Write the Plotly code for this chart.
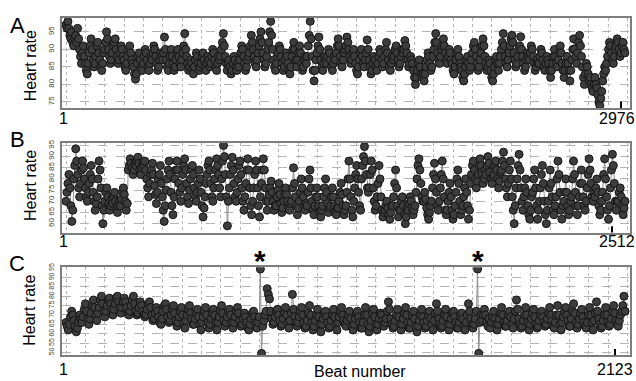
import numpy as np
import plotly.graph_objects as go

W, H = 636, 381

# ---------------- data ----------------
panel_labels = ["A", "B", "C"]
beats_total = [2976, 2512, 2123]          # labelled last beat of each record
last_beat_drawn = [2997, 2572, 2162]      # where the plotted trace ends (estimated)

yticks_a = [75, 80, 85, 90, 95]
yticks_b = [60, 65, 70, 75, 80, 85, 90, 95]
yticks_c = [50, 55, 60, 65, 70, 75, 80, 85, 90, 95]

hr_a = [
    97, 96, 98, 96, 94, 93, 95, 92, 91, 93,   94, 92, 96, 93, 90, 88, 86, 89, 91, 88,
    86, 84, 83, 86, 89, 91, 93, 90, 87, 85,   86, 88, 91, 92, 89, 87, 85, 84, 86, 89,
    90, 92, 95, 93, 90, 88, 86, 87, 89, 91,   92, 93, 90, 88, 86, 87, 89, 91, 90, 88,
    87, 85, 84, 86, 88, 90, 91, 89, 87, 86,   85, 83, 81.5, 83, 86, 88, 89, 87, 85, 84,
    86, 88, 90, 89, 87, 85, 84, 86, 88, 87,   89, 91, 90, 88, 86, 84, 85, 87, 89, 88,
    87, 89, 93.5, 90, 87, 85, 84, 86, 88, 90, 88, 86, 84, 85, 87, 89, 90, 88, 86, 85,
    87, 89, 91, 94.5, 90, 88, 86, 84, 85, 87, 86, 84, 83, 85, 87, 89, 88, 86, 84, 85,
    86, 88, 89, 87, 85, 84, 86, 88, 87, 85,   86, 88, 90, 89, 87, 85, 84, 86, 88, 87,
    88, 90, 92, 94.5, 91, 88, 86, 84, 86, 87, 85, 83, 84, 86, 88, 87, 85, 84, 86, 85,
    87, 89, 91, 90, 88, 86, 84, 85, 87, 88,   89, 91, 94, 92, 90, 88, 86, 85, 87, 89,
    91, 93, 95, 92, 89, 87, 85, 86, 88, 90,   92, 95, 98, 94, 90, 87, 85, 84, 86, 88,
    89, 91, 90, 88, 86, 84, 85, 87, 89, 88,   86, 84, 83, 85, 88, 90, 92, 90, 87, 85,
    87, 89, 91, 89, 86, 84, 85, 87, 88, 86,   88, 91, 94, 98, 93, 88, 84, 81, 84, 87,
    89, 91, 93.5, 90, 87, 85, 84, 86, 88, 87, 86, 88, 90, 89, 87, 85, 84, 86, 88, 87,
    89, 91, 93, 91, 88, 86, 85, 87, 89, 90,   91, 93.5, 92, 90, 88, 86, 87, 89, 90, 88,
    86, 84, 83, 85, 87, 89, 90, 88, 86, 85,   87, 89, 92.7, 90, 87, 85, 83, 84, 86, 88,
    87, 85, 84, 86, 88, 90, 89, 87, 85, 86,   88, 90, 92, 89, 87, 85, 84, 86, 88, 87,
    88, 90, 91, 89, 87, 85, 86, 88, 90, 89,   90, 92.5, 91, 89, 87, 85, 86, 88, 87, 86,
    84, 82, 80, 82, 84, 86, 87, 85, 83, 82,   83, 81, 83, 85, 87, 89, 88, 86, 84, 85,
    88, 90, 92, 94.5, 92, 89, 87, 86, 88, 90, 91, 93, 91, 89, 87, 86, 88, 90, 89, 87,
    86, 84, 83, 85, 87, 89, 90, 88, 86, 85,   84, 82, 81, 83, 85, 87, 88, 86, 84, 85,
    87, 89, 91, 92, 90, 88, 86, 84, 85, 87,   89, 91, 93, 91, 88, 86, 84, 85, 87, 86,
    84, 82, 81, 83, 85, 87, 88, 86, 84, 86,   88, 90, 92, 94.5, 91, 88, 86, 85, 87, 89,
    91, 93, 94, 92, 89, 87, 85, 86, 88, 90,   91, 93.6, 90, 88, 86, 84, 85, 87, 89, 88,
    87, 89, 91, 90, 88, 86, 84, 85, 87, 86,   86, 88, 90, 89, 87, 85, 84, 86, 88, 87,
    86, 84, 82, 84, 86, 88, 90, 88, 86, 85,   87, 89, 91, 89, 86, 84, 82, 84, 86, 88,
    86, 84, 81, 84, 87, 90, 93, 90, 88, 86,   89, 92, 94, 91, 88, 85, 82, 80, 83, 86,
    85, 83, 81, 82, 80, 79, 78, 80, 82, 80,   79, 77, 75, 74, 76, 78, 81, 83, 85, 84,
    86, 88, 90, 92, 91, 89, 87, 86, 88, 90,   91, 93, 92, 90, 88, 89, 91, 92, 90, 89,
]

hr_b = [
    70, 74, 78, 82, 76, 68, 61, 66,   80, 86, 93.5, 88, 82, 76, 72, 78,  84, 88, 85, 80, 76, 72, 70, 74,
    78, 82, 86, 80, 74, 70, 66, 69,   72, 80, 88, 84, 76, 68, 60, 66,    70, 74, 76, 72, 69, 66, 68, 71,
    69, 72, 74, 70, 67, 65, 68, 70,   68, 71, 74, 76, 73, 70, 66, 69,    84, 86, 89, 87, 85, 82, 84, 87,
    86, 88, 89.7, 87, 84, 82, 85, 87, 86, 88, 84, 80, 76, 72, 78, 82,    84, 87, 82, 77, 73, 69, 74, 80,
    82, 86, 78, 72, 66, 61, 68, 75,   80, 84, 88, 82, 74, 68, 64, 72,    80, 84, 88, 84, 78, 74, 70, 76,
    82, 86, 89, 84, 78, 72, 69, 75,   80, 84, 86, 82, 76, 72, 70, 74,    78, 84, 80, 74, 68, 63, 67, 72,
    78, 82, 86, 88, 84, 78, 72, 70,   76, 80, 84, 89, 86, 82, 76, 72,    80, 88, 95, 90, 82, 72, 59, 70,
    76, 82, 86, 89.7, 84, 78, 72, 70, 74, 80, 86, 88, 82, 76, 70, 66,    72, 78, 84, 89, 84, 76, 68, 64,
    70, 76, 82, 88, 84, 76, 68, 63,   72, 78, 84, 89, 84, 76, 70, 66,    70, 73, 76, 79, 74, 70, 66, 68,
    68, 72, 75, 78, 73, 69, 65, 67,   70, 73, 76, 73, 70, 67, 66, 69,    70, 76, 85, 78, 72, 68, 64, 67,
    70, 74, 80, 76, 72, 68, 66, 69,   68, 74, 80, 84, 76, 70, 66, 64,    68, 72, 76, 72, 68, 65, 63, 66,
    68, 72, 76, 80, 74, 69, 65, 67,   68, 72, 76, 72, 68, 65, 64, 67,    67, 70, 74, 78, 73, 68, 64, 66,
    68, 74, 80, 88, 80, 72, 66, 63,   70, 76, 82, 86, 80, 74, 68, 66,    80, 86, 90, 94.5, 88, 82, 76, 74,
    76, 82, 88, 84, 76, 70, 66, 68,   72, 78, 86, 80, 72, 66, 63, 65,    66, 68, 70, 67, 64, 62, 65, 68,
    68, 72, 78, 84, 76, 68, 63, 66,   66, 70, 72, 68, 64, 60, 63, 67,    66, 69, 72, 70, 67, 64, 66, 68,
    74, 80, 86, 89, 84, 78, 72, 70,   70, 74, 71, 67, 64, 62, 65, 68,    70, 76, 82, 87, 80, 74, 68, 66,
    70, 76, 82, 88, 80, 72, 66, 64,   66, 70, 74, 78, 72, 66, 62, 64,    68, 74, 80, 84, 78, 70, 64, 66,
    68, 72, 76, 80, 74, 68, 62, 66,   78, 82, 86, 88, 84, 80, 76, 79,    82, 86, 89, 86, 82, 78, 80, 84,
    82, 86, 90, 87, 83, 80, 78, 81,   82, 86, 88, 84, 80, 76, 79, 83,    84, 88, 92, 86, 80, 76, 72, 78,
    84, 88, 80, 72, 66, 60, 68, 76,   80, 86, 91, 84, 76, 70, 66, 72,    76, 80, 74, 68, 64, 62, 66, 72,
    74, 80, 84, 76, 68, 62, 66, 70,   76, 82, 86, 78, 70, 64, 60, 66,    70, 76, 84, 78, 72, 66, 64, 68,
    72, 80, 88, 82, 74, 66, 62, 68,   70, 74, 80, 74, 68, 64, 66, 70,    72, 80, 88, 82, 74, 68, 64, 68,
    72, 78, 84, 78, 72, 68, 66, 70,   76, 82, 89, 84, 78, 72, 70, 74,    72, 76, 80, 74, 68, 64, 66, 70,
    74, 82, 89, 80, 72, 66, 62, 68,   76, 84, 91, 86, 78, 70, 66, 70,    70, 74, 76, 72, 68, 64, 67, 70,
]

hr_c = [
    66, 64, 62, 65, 69, 72, 70,   67, 64, 61, 63, 66, 70, 68,   66, 69, 73, 76, 72, 68, 65,
    68, 71, 75, 78, 74, 70, 67,   71, 74, 78, 80, 76, 72, 69,   72, 75, 78, 79, 76, 73, 70,
    73, 76, 79, 80, 77, 74, 71,   74, 77, 79, 77, 74, 71, 70,   72, 75, 78, 80, 76, 72, 70,
    71, 74, 77, 75, 72, 70, 69,   70, 73, 76, 77, 74, 70, 67,   68, 71, 74, 72, 69, 66, 65,
    68, 72, 75, 76, 73, 69, 66,   67, 70, 73, 75, 71, 67, 64,   66, 69, 72, 74, 70, 66, 63,
    67, 70, 73, 75, 71, 68, 65,   65, 68, 71, 73, 69, 65, 62,   66, 69, 72, 74, 70, 66, 63,
    65, 68, 71, 73, 70, 66, 62,   66, 69, 72, 75, 71, 67, 64,   66, 69, 72, 73, 70, 66, 63,
    66, 69, 72, 74, 71, 67, 64,   65, 68, 71, 69, 66, 63, 62,   65, 68, 71, 72, 69, 66, 63,
    66, 69, 94.5, 49.5, 64, 67, 70,  72, 84, 81, 78.6, 72, 68, 65,  66, 69, 72, 73, 70, 67, 64,
    65, 68, 71, 74, 70, 66, 63,   67, 71, 81, 73, 69, 66, 64,   66, 69, 72, 74, 70, 66, 63,
    64, 67, 71, 75, 70, 66, 62,   64, 67, 70, 73, 69, 65, 61,   65, 68, 71, 72, 69, 66, 63,
    64, 67, 70, 73, 69, 65, 62,   66, 69, 72, 74, 70, 67, 65,   64, 67, 70, 72, 68, 64, 62,
    65, 68, 71, 72, 69, 66, 63,   63, 66, 70, 74, 70, 65, 61,   64, 67, 71, 73, 69, 65, 62,
    65, 68, 71, 70, 67, 64, 66,   68, 72, 77, 73, 68, 65, 63,   64, 67, 70, 73, 69, 65, 62,
    65, 68, 71, 74, 70, 66, 63,   63, 66, 70, 72, 68, 64, 61,   64, 67, 70, 73, 69, 66, 63,
    64, 67, 70, 72, 68, 65, 62,   67, 71, 76, 72, 68, 65, 63,   64, 67, 70, 73, 69, 65, 62,
    65, 68, 71, 72, 69, 66, 63,   63, 66, 69, 71, 68, 64, 62,   66, 70, 76, 72, 68, 65, 63,
    65, 68, 72, 94.5, 49.5, 66, 70,  67, 70, 73, 70, 66, 64, 68,  63, 66, 69, 72, 68, 65, 62,
    65, 68, 71, 74, 70, 66, 64,   64, 67, 70, 72, 69, 65, 63,   68, 72, 78, 73, 68, 65, 63,
    64, 67, 70, 74, 70, 66, 62,   65, 68, 71, 73, 69, 65, 63,   64, 67, 70, 72, 69, 66, 64,
    65, 68, 71, 74, 70, 67, 64,   63, 66, 70, 75, 70, 65, 62,   66, 69, 72, 74, 70, 67, 64,
    64, 68, 72, 76, 71, 66, 63,   65, 68, 71, 73, 69, 66, 64,   63, 66, 70, 74, 70, 66, 62,
    67, 71, 77, 72, 68, 65, 63,   64, 67, 70, 74, 70, 66, 64,   65, 68, 72, 75, 71, 67, 65,
    64, 67, 70, 72, 75, 80, 72,
]

series = [hr_a, hr_b, hr_c]
yticks = [yticks_a, yticks_b, yticks_c]
yranges = [[73.3, 99.0], [56.0, 96.3], [48.5, 95.5]]
ytick_size = [8, 8, 7]

# ---------------- layout geometry (pixels) ----------------
PL, PR = 62, 630            # plot left/right
panel_tb = [(14, 105), (140, 231), (266, 355)]
tick_px = [621, 612, 615]   # pixel where the last-beat tick sits
label_px_shift = [-4, 5, 0]
label_yshift = [-11, -9, -14]
letter_y = [22, 137, 262]
title_y = [63, 184, 310]
grid_px = 19.36
FONT = "Liberation Sans"

def px2x(x):
    return x / W

def px2y(y):
    return 1 - y / H

def note(text, x, y, size, **kw):
    d = dict(text=text, x=x, y=y, showarrow=False, xanchor="center", yanchor="middle",
             font=dict(size=size, color="black", family=FONT))
    d.update(kw)
    return d

fig = go.Figure()
annotations = []
shapes = []

for i in range(3):
    vals = np.array(series[i], dtype=float)
    n = beats_total[i]
    per_px = (n - 1) / (tick_px[i] - (PL + 4))
    xr = [1 - 4 * per_px, 1 + (PR - PL - 4) * per_px]
    xs = np.linspace(1, last_beat_drawn[i], len(vals))
    ax = "" if i == 0 else str(i + 1)
    fig.add_trace(go.Scatter(
        x=xs, y=vals, mode="lines+markers",
        line=dict(color="#8f8f8f", width=1),
        marker=dict(size=8, color="#3d3d3d", line=dict(color="#151515", width=1)),
        xaxis="x" + ax, yaxis="y" + ax, showlegend=False, hoverinfo="skip",
    ))
    top, bot = panel_tb[i]
    fig.layout["xaxis" + ax] = dict(
        domain=[px2x(PL), px2x(PR)], anchor="y" + ax, range=xr,
        tick0=1, dtick=grid_px * per_px, showticklabels=False, ticks="",
        showgrid=True, gridcolor="#b5b5b5", griddash="dot", gridwidth=1,
        zeroline=False, showline=True, mirror=True, linecolor="#7d7d7d", linewidth=2,
    )
    fig.layout["yaxis" + ax] = dict(
        domain=[px2y(bot), px2y(top)], anchor="x" + ax, range=yranges[i],
        tickmode="array", tickvals=yticks[i], ticktext=[str(v) for v in yticks[i]],
        tickangle=-90, tickfont=dict(size=ytick_size[i], color="#444", family=FONT),
        ticks="", ticklabelstandoff=3,
        showgrid=True, gridcolor="#b5b5b5", griddash="dash", gridwidth=1,
        zeroline=False, showline=True, mirror=True, linecolor="#7d7d7d", linewidth=2,
    )
    shapes.append(dict(type="line", xref="x" + ax, yref="y" + ax + " domain",
                       x0=n, x1=n, y0=0, y1=0.07, line=dict(color="black", width=2)))
    annotations.append(note("1", 1, 0, 16, xref="x" + ax, yref="y" + ax + " domain",
                            yshift=label_yshift[i], xshift=-3))
    annotations.append(note(str(n), n, 0, 16, xref="x" + ax, yref="y" + ax + " domain",
                            yshift=label_yshift[i], xshift=label_px_shift[i]))
    annotations.append(note(panel_labels[i], px2x(17), px2y(letter_y[i]), 22,
                            xref="paper", yref="paper"))
    annotations.append(note("Heart rate", px2x(30), px2y(title_y[i]), 16,
                            xref="paper", yref="paper", textangle=-90))

# asterisks over the two artefact spikes in panel C
xs_c = np.linspace(1, last_beat_drawn[2], len(hr_c))
vals_c = np.array(hr_c)
spike_idx = np.where(vals_c == vals_c.max())[0]
for k in spike_idx:
    annotations.append(note("<b>*</b>", xs_c[k], 1, 30, xref="x3", yref="y3 domain",
                            yanchor="bottom", yshift=-12))

annotations.append(note("Beat number", px2x(360), px2y(371), 16, xref="paper", yref="paper"))

fig.update_layout(
    width=W, height=H, autosize=False,
    margin=dict(l=0, r=0, t=0, b=0),
    paper_bgcolor="white", plot_bgcolor="white",
    annotations=annotations, shapes=shapes,
)

fig.write_html("out.html", config={"displayModeBar": False},
               post_script="document.body.style.margin='0';")
